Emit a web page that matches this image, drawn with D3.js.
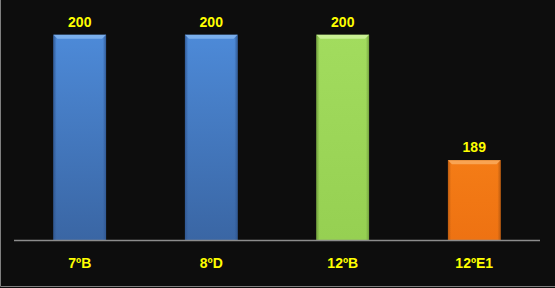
<!DOCTYPE html>
<html>
<head>
<meta charset="utf-8">
<script src="https://cdn.jsdelivr.net/npm/d3@7"></script>
<style>
  html, body { margin: 0; padding: 0; background: #0d0d0d; }
  svg { display: block; }
</style>
</head>
<body>
<div id="main"></div>
<script>
const categories = ['7ºB', '8ºD', '12ºB', '12ºE1'];
const values = [200, 200, 200, 189];
const barColours = [
    {top: '#4d8ad8', bottom: '#3a66a4', edge: '#2f5690', bevel: '#7fb3f0'},
    {top: '#4d8ad8', bottom: '#3a66a4', edge: '#2f5690', bevel: '#7fb3f0'},
    {top: '#a2dc5e', bottom: '#96d052', edge: '#6f9c3c', bevel: '#cdf39a'},
    {top: '#f47c16', bottom: '#ee7212', edge: '#b85a10', bevel: '#f9a85a'}
];
const yDomain = [182, 202];

const WIDTH = 555, HEIGHT = 288;
const PLOT = {left: 14, right: 540, top: 12, bottom: 240};

const svg = d3.select('#main').append('svg').attr('width', WIDTH).attr('height', HEIGHT);
svg.append('rect').attr('width', WIDTH).attr('height', HEIGHT).attr('fill', '#0d0d0d');

// frame: only left and bottom edges are visible
svg.append('path')
    .attr('d', `M0.5,0 V${HEIGHT - 1.5} H${WIDTH}`)
    .attr('fill', 'none').attr('stroke', '#7f7f7f').attr('stroke-width', 1);

const x = d3.scaleBand().domain(categories).range([PLOT.left, PLOT.right]).paddingInner(0.6).paddingOuter(0.3);
const y = d3.scaleLinear().domain(yDomain).range([PLOT.bottom, PLOT.top]);

const data = categories.map((c, i) => ({cat: c, value: values[i], col: barColours[i], i: i}));

const defs = svg.append('defs');
data.forEach((d) => {
    const gv = defs.append('linearGradient').attr('id', `gv${d.i}`).attr('x1', 0).attr('y1', 0).attr('x2', 0).attr('y2', 1);
    gv.append('stop').attr('offset', '0%').attr('stop-color', d.col.top);
    gv.append('stop').attr('offset', '100%').attr('stop-color', d.col.bottom);
    const gh = defs.append('linearGradient').attr('id', `gh${d.i}`).attr('x1', 0).attr('y1', 0).attr('x2', 1).attr('y2', 0);
    gh.append('stop').attr('offset', '0%').attr('stop-color', d.col.edge).attr('stop-opacity', 0.9);
    gh.append('stop').attr('offset', '6%').attr('stop-color', d.col.edge).attr('stop-opacity', 0);
    gh.append('stop').attr('offset', '94%').attr('stop-color', d.col.edge).attr('stop-opacity', 0);
    gh.append('stop').attr('offset', '100%').attr('stop-color', d.col.edge).attr('stop-opacity', 0.9);
});

const bars = svg.selectAll('g.bar').data(data).enter().append('g').attr('class', 'bar');
bars.append('rect')
    .attr('x', (d) => x(d.cat)).attr('y', (d) => y(d.value))
    .attr('width', x.bandwidth()).attr('height', (d) => y(yDomain[0]) - y(d.value))
    .attr('fill', (d) => `url(#gv${d.i})`);
bars.append('rect')
    .attr('x', (d) => x(d.cat)).attr('y', (d) => y(d.value))
    .attr('width', x.bandwidth()).attr('height', (d) => y(yDomain[0]) - y(d.value))
    .attr('fill', (d) => `url(#gh${d.i})`);
// top bevel
bars.append('path')
    .attr('d', (d) => {
        const x0 = x(d.cat), x1 = x0 + x.bandwidth(), t = y(d.value), b = 4;
        return `M${x0},${t} H${x1} L${x1 - b},${t + b} H${x0 + b} Z`;
    })
    .attr('fill', (d) => d.col.bevel).attr('opacity', 0.9);

// axis line
svg.append('line')
    .attr('x1', PLOT.left).attr('x2', PLOT.right)
    .attr('y1', PLOT.bottom + 0.5).attr('y2', PLOT.bottom + 0.5)
    .attr('stroke', '#8c8c8c').attr('stroke-width', 1.5);

const FONT = '"Liberation Sans", Arial, sans-serif';
// value labels
svg.selectAll('text.value').data(data).enter().append('text').attr('class', 'value')
    .attr('x', (d) => x(d.cat) + x.bandwidth() / 2)
    .attr('y', (d) => y(d.value) - 8)
    .attr('text-anchor', 'middle')
    .attr('font-family', FONT).attr('font-weight', 'bold').attr('font-size', '14px')
    .attr('fill', '#ffff00')
    .text((d) => d.value);

// category labels
svg.selectAll('text.cat').data(data).enter().append('text').attr('class', 'cat')
    .attr('x', (d) => x(d.cat) + x.bandwidth() / 2)
    .attr('y', 268)
    .attr('text-anchor', 'middle')
    .attr('font-family', FONT).attr('font-weight', 'bold').attr('font-size', '14px')
    .attr('fill', '#ffff00')
    .text((d) => d.cat);
</script>
</body>
</html>
